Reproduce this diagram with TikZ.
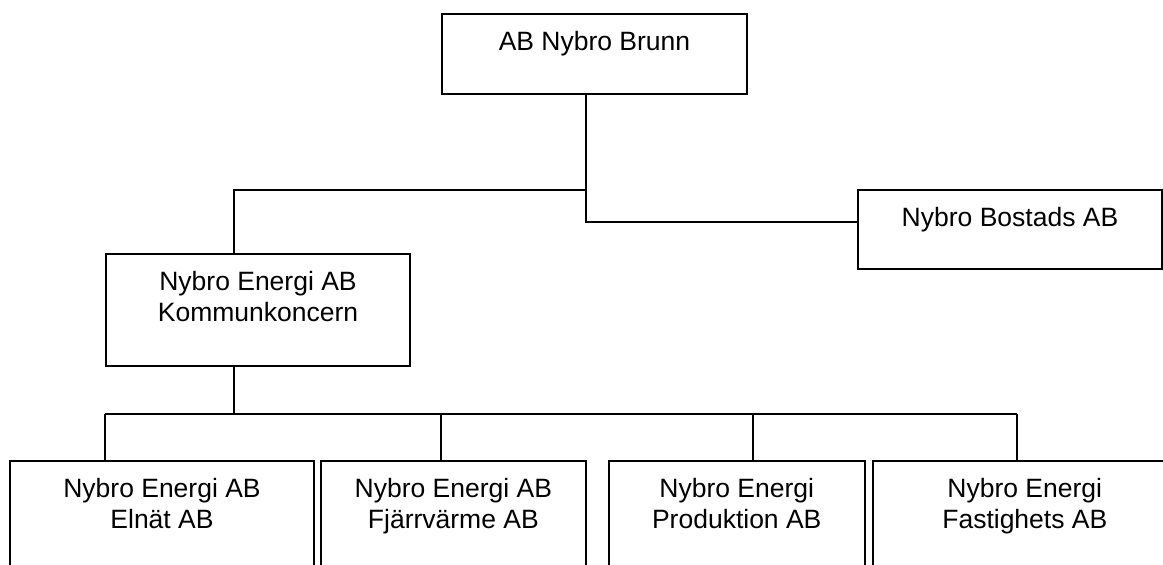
\documentclass[tikz,border=0pt]{standalone}
\usepackage{fontspec}
\setmainfont{Liberation Sans}
\usetikzlibrary{positioning,calc}

\begin{document}
\begin{tikzpicture}[x=0.5pt, y=-0.5pt, line width=1pt,
    orgbox/.style={draw, line width=1pt, inner sep=0pt},
    orgtext/.style={anchor=north, inner sep=0pt, yshift=-8.8pt, align=center,
      font=\fontsize{13.25pt}{15.5pt}\selectfont}]
  \path[use as bounding box, clip] (0,0) rectangle (1163,565);%
  % top level
  \node[orgbox, minimum width=152.5pt, minimum height=40pt,
    label={[orgtext]north:{AB Nybro Brunn}}] (brunn) at (594.5,54) {};%
  \node[orgbox, minimum width=152pt, minimum height=39.75pt,
    label={[orgtext]north:{Nybro Bostads AB}}] (bostads) at (1010,229.75) {};%
  \node[orgbox, minimum width=152pt, minimum height=56pt,
    label={[orgtext]north:{Nybro Energi AB\\Kommunkoncern}}] (kommun) at (258,310) {};%
  % subsidiaries
  \node[orgbox, minimum width=152pt, minimum height=56pt,
    label={[orgtext]north:{Nybro Energi AB\\Elnät AB}}] (elnat) at (162,517) {};%
  \node[orgbox, minimum width=132.65pt, minimum height=56pt,
    label={[orgtext]north:{Nybro Energi AB\\Fjärrvärme AB}}] (fjarr) at (453.35,517) {};%
  \node[orgbox, minimum width=128.25pt, minimum height=56pt,
    label={[orgtext]north:{Nybro Energi\\Produktion AB}}] (prod) at (736.75,517) {};%
  \node[orgbox, minimum width=151.8pt, minimum height=56pt,
    label={[orgtext]north:{Nybro Energi\\Fastighets AB}}] (fast) at (1024.8,517) {};%
  % connectors
  \coordinate (hub) at (586,190);%
  \coordinate (kdrop) at (234,190);%
  \coordinate (busL) at (105,414);%
  \coordinate (busR) at (1017,414);%
  \draw (brunn.south -| hub) |- ([yshift=3.85pt]bostads.west);%
  \draw (hub) -- (kdrop) -- (kdrop |- kommun.north);%
  \draw (kommun.south -| kdrop) -- (kdrop |- busL);%
  \draw (busL) -- (busR);%
  \foreach \b/\x in {elnat/105,fjarr/441,prod/753,fast/1017}
    \draw (\x,414) -- (\b.north -| \x,414);%
\end{tikzpicture}
\end{document}
